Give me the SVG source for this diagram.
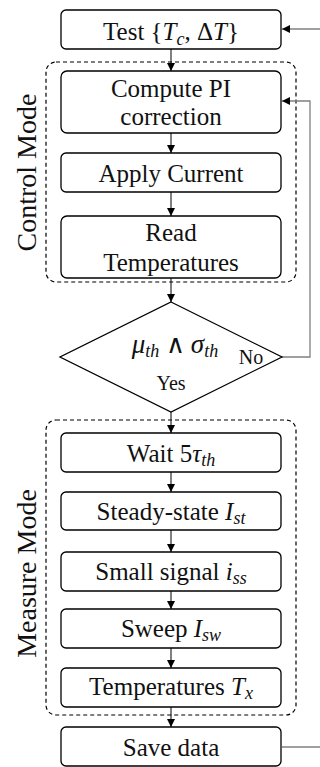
<svg xmlns="http://www.w3.org/2000/svg" width="320" height="767" viewBox="0 0 320 767">
  <defs>
    <marker id="arrow" viewBox="0 0 10 10" refX="10" refY="5" markerWidth="8" markerHeight="8" markerUnits="userSpaceOnUse" orient="auto">
      <path d="M0,0 L10,5 L0,10 z" fill="#000"/>
    </marker>
    <style>
      text { font-family: "Liberation Serif", "Times New Roman", serif; fill: #111; }
      .box { fill: #fff; stroke: #000; stroke-width: 1.3; }
      .group { fill: none; stroke: #000; stroke-width: 1.2; stroke-dasharray: 4 3; }
      .label { font-size: 25px; text-anchor: middle; }
      .mode { font-size: 28px; text-anchor: middle; }
      .small { font-size: 20px; text-anchor: middle; }
      .flow { fill: none; stroke: #000; stroke-width: 1; marker-end: url(#arrow); }
      .loop { fill: none; stroke: #808080; stroke-width: 1.3; }
      .loop-arrow { fill: none; stroke: #808080; stroke-width: 1.3; marker-end: url(#arrow); }
      .it { font-style: italic; }
      .sub { font-style: italic; font-size: 18px; }
      .op { font-family: "DejaVu Sans ExtraLight", "DejaVu Sans", sans-serif; font-weight: 200; font-size: 26px; }
    </style>
  </defs>

  <rect width="320" height="767" fill="#fff"/>

  <!-- dashed mode groups -->
  <g id="control-mode">
    <rect class="group" x="46" y="62" width="250" height="220" rx="10"/>
    <text class="mode" transform="translate(36,172.5) rotate(-90)">Control Mode</text>
  </g>
  <g id="measure-mode">
    <rect class="group" x="46" y="420" width="250" height="295" rx="10"/>
    <text class="mode" transform="translate(36,573.5) rotate(-90)">Measure Mode</text>
  </g>

  <!-- connectors -->
  <g id="connectors">
    <line class="flow" x1="171" y1="49" x2="171" y2="71"/>
    <line class="flow" x1="171" y1="133" x2="171" y2="153"/>
    <line class="flow" x1="171" y1="192" x2="171" y2="216"/>
    <line class="flow" x1="171" y1="278" x2="171" y2="302"/>
    <line class="flow" x1="171" y1="412" x2="171" y2="433"/>
    <line class="flow" x1="171" y1="472" x2="171" y2="492"/>
    <line class="flow" x1="171" y1="530" x2="171" y2="552"/>
    <line class="flow" x1="171" y1="591" x2="171" y2="609"/>
    <line class="flow" x1="171" y1="648" x2="171" y2="668"/>
    <line class="flow" x1="171" y1="707" x2="171" y2="727"/>
    <!-- "No" branch back to the PI step -->
    <polyline class="loop-arrow" points="282,357 310,357 310,101 282,101"/>
    <!-- restart loop from Save data to Test -->
    <line class="loop" x1="282" y1="747" x2="320" y2="747"/>
    <line class="loop-arrow" x1="320" y1="29" x2="282" y2="29"/>
  </g>

  <g id="test">
    <rect class="box" x="61" y="10" width="220" height="39" rx="5"/>
    <text class="label" x="171" y="40">Test {<tspan class="it">T</tspan><tspan class="sub" dy="5">c</tspan><tspan dy="-5">, Δ</tspan><tspan class="it">T</tspan>}</text>
  </g>

  <g id="compute-pi">
    <rect class="box" x="61" y="71" width="220" height="62" rx="6"/>
    <text class="label" x="171" y="97">Compute PI</text>
    <text class="label" x="171" y="125">correction</text>
  </g>

  <g id="apply-current">
    <rect class="box" x="61" y="153" width="220" height="39" rx="5"/>
    <text class="label" x="171" y="182">Apply Current</text>
  </g>

  <g id="read-temperatures">
    <rect class="box" x="61" y="216" width="220" height="62" rx="6"/>
    <text class="label" x="171" y="241">Read</text>
    <text class="label" x="171" y="271">Temperatures</text>
  </g>

  <g id="decision">
    <polygon class="box" points="171,302 282,357 171,412 60,357"/>
    <text class="label" x="175" y="353"><tspan class="it" font-size="27">μ</tspan><tspan class="sub" dy="4">th</tspan><tspan dy="-4"> </tspan><tspan class="op">∧</tspan><tspan> </tspan><tspan class="it" font-size="27">σ</tspan><tspan class="sub" dy="4">th</tspan></text>
    <text class="small" x="251" y="364">No</text>
    <text class="small" x="171" y="390">Yes</text>
  </g>

  <g id="wait">
    <rect class="box" x="61" y="433" width="220" height="39" rx="5"/>
    <text class="label" x="171" y="462">Wait 5<tspan class="it">τ</tspan><tspan class="sub" dy="4">th</tspan></text>
  </g>

  <g id="steady-state">
    <rect class="box" x="61" y="492" width="220" height="38" rx="5"/>
    <text class="label" x="171" y="520">Steady-state <tspan class="it">I</tspan><tspan class="sub" dy="4">st</tspan></text>
  </g>

  <g id="small-signal">
    <rect class="box" x="61" y="552" width="220" height="39" rx="5"/>
    <text class="label" x="171" y="580">Small signal <tspan class="it">i</tspan><tspan class="sub" dy="4">ss</tspan></text>
  </g>

  <g id="sweep">
    <rect class="box" x="61" y="609" width="220" height="39" rx="5"/>
    <text class="label" x="171" y="637">Sweep <tspan class="it">I</tspan><tspan class="sub" dy="4">sw</tspan></text>
  </g>

  <g id="temperatures">
    <rect class="box" x="61" y="668" width="220" height="39" rx="5"/>
    <text class="label" x="171" y="695">Temperatures <tspan class="it">T</tspan><tspan class="sub" dy="4">x</tspan></text>
  </g>

  <g id="save-data">
    <rect class="box" x="61" y="727" width="220" height="39" rx="5"/>
    <text class="label" x="171" y="756">Save data</text>
  </g>
</svg>
